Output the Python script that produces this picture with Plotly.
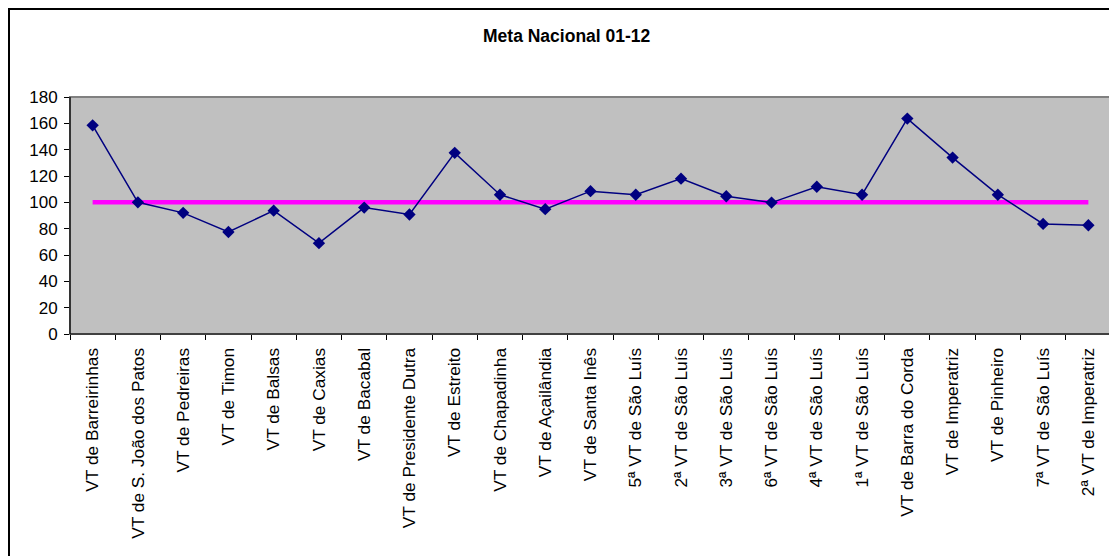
import plotly.graph_objects as go

categories = [
    "VT de Barreirinhas", "VT de S. João dos Patos", "VT de Pedreiras", "VT de Timon",
    "VT de Balsas", "VT de Caxias", "VT de Bacabal", "VT de Presidente Dutra",
    "VT de Estreito", "VT de Chapadinha", "VT de Açailândia", "VT de Santa Inês",
    "5ª VT de São Luís", "2ª VT de São Luís", "3ª VT de São Luís", "6ª VT de São Luís",
    "4ª VT de São Luís", "1ª VT de São Luís", "VT de Barra do Corda", "VT de Imperatriz",
    "VT de Pinheiro", "7ª VT de São Luís", "2ª VT de Imperatriz",
]
values = [158.5, 100, 92, 77.5, 93.7, 69, 96, 90.8, 137.6, 105.8, 94.8, 108.5,
          105.8, 118, 104.6, 99.8, 111.8, 105.8, 163.6, 134, 105.8, 83.6, 82.6]
meta_values = [100, 100, 100, 100, 100, 100, 100, 100, 100, 100, 100, 100,
               100, 100, 100, 100, 100, 100, 100, 100, 100, 100, 100]
y_ticks = [0, 20, 40, 60, 80, 100, 120, 140, 160, 180]
title_text = "Meta Nacional 01-12"

FONT = "Liberation Sans, Arial, sans-serif"

fig = go.Figure()
fig.add_trace(go.Scatter(
    x=categories, y=meta_values, mode="lines",
    line=dict(color="#FF00FF", width=4.5), showlegend=False, hoverinfo="skip",
))
fig.add_trace(go.Scatter(
    x=categories, y=values, mode="lines+markers",
    line=dict(color="#000080", width=1.5),
    marker=dict(symbol="diamond", size=9.5, color="#000080"),
    showlegend=False,
))

# page has an 8px body margin; figure coordinates = page - 8
OFF = 8
W, H = 1117 - OFF, 556 - OFF
plot_left, plot_right, plot_top, plot_bottom = 70, 1111, 97, 334  # page px
L = plot_left - OFF
R = W - (plot_right - OFF)
T = plot_top - OFF
B = H - (plot_bottom - OFF)
pw = W - L - R
ph = H - T - B

def px_x(p):
    return (p - plot_left) / pw

def px_y(p):
    return (plot_bottom - p) / ph

fig.update_layout(
    width=W, height=H,
    margin=dict(l=L, r=R, t=T, b=B, pad=0),
    paper_bgcolor="white",
    plot_bgcolor="#C0C0C0",
    font=dict(family=FONT, size=17, color="black"),
    xaxis=dict(
        type="category", range=[-0.5, len(categories) - 0.5],
        tickangle=-90, tickson="boundaries", ticks="outside", ticklen=5,
        tickcolor="black", showline=True, linecolor="black", linewidth=1,
        showgrid=False, zeroline=False, tickfont=dict(size=17.3),
        ticklabelstandoff=6,
    ),
    yaxis=dict(
        range=[0, 180], tickvals=y_ticks, ticks="outside", ticklen=5,
        tickcolor="black", showline=True, linecolor="black", linewidth=1,
        showgrid=False, zeroline=False, tickfont=dict(size=17),
        ticklabelstandoff=3,
    ),
    shapes=[
        dict(type="rect", xref="paper", yref="paper", x0=0, x1=1, y0=0, y1=1,
             line=dict(color="#808080", width=2), layer="above"),
        dict(type="line", xref="paper", yref="paper", x0=0, x1=0, y0=0, y1=1,
             line=dict(color="black", width=1.2), layer="above"),
        dict(type="line", xref="paper", yref="paper", x0=0, x1=1, y0=0, y1=0,
             line=dict(color="black", width=1.2), layer="above"),
        dict(type="rect", xref="paper", yref="paper",
             x0=px_x(9), x1=px_x(1140), y0=px_y(580), y1=px_y(9),
             line=dict(color="black", width=2)),
    ],
    annotations=[
        dict(text="<b>" + title_text + "</b>", xref="paper", yref="paper",
             x=px_x(567), y=px_y(36), xanchor="center", yanchor="middle",
             showarrow=False, font=dict(family=FONT, size=17.5, color="black")),
    ],
)

fig.write_html("out.html")
